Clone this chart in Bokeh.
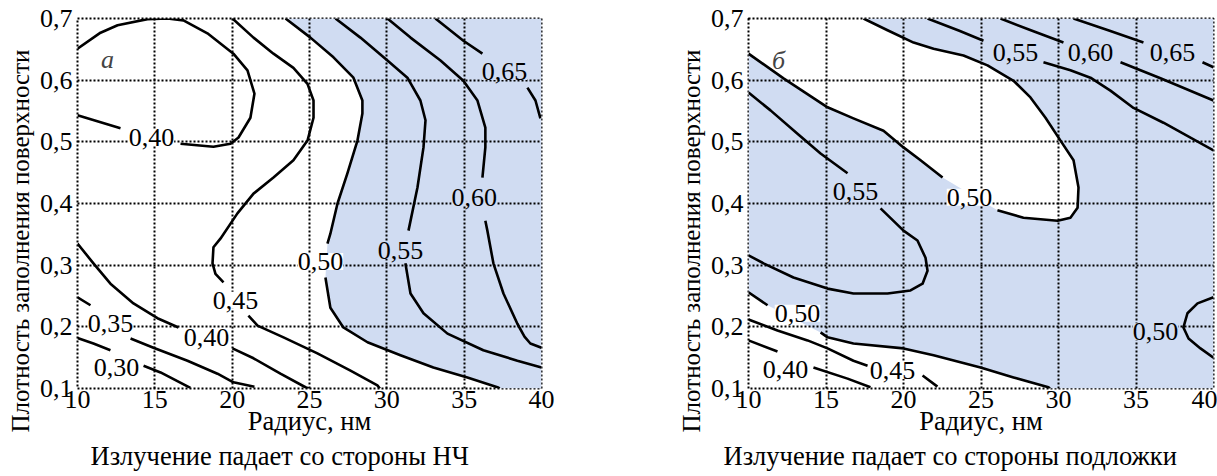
import math
from bokeh.plotting import figure
from bokeh.layouts import row
from bokeh.models import (Range1d, FixedTicker, CustomJSTickFormatter,
                          ColumnDataSource, LabelSet, Label, Title)
from bokeh.core.properties import value, field
from bokeh.embed import file_html
from bokeh.resources import INLINE

nan = float("nan")

# ---------------- data: ticks ----------------
X_TICKS = [10, 15, 20, 25, 30, 35, 40]
Y_TICKS = [0.1, 0.2, 0.3, 0.4, 0.5, 0.6, 0.7]

# ---------------- panel a contours (radius, fill density); nan = label gap ----------------
A40U_X = [10.0, 11.49, 12.59, 14.52, 15.82, 16.85, 18.40, 20.08, 20.99, 21.44, 21.18, 20.41, 19.89, 18.79, 16.66, nan, 12.78, 10.0]
A40U_Y = [0.651, 0.677, 0.689, 0.699, 0.700, 0.697, 0.676, 0.643, 0.616, 0.578, 0.539, 0.507, 0.497, 0.492, 0.497, nan, 0.522, 0.543]

A45_X = [20.02, 21.38, 22.67, 23.96, 24.87, 25.26, 25.26, 24.87, 23.96, 22.67, 21.38, 20.34, 19.24, 18.79, 18.73, 18.92, 19.44, nan, 21.05, 21.64, 23.32, 25.51, 27.65, 29.39, 29.55]
A45_Y = [0.700, 0.669, 0.643, 0.620, 0.594, 0.567, 0.539, 0.502, 0.470, 0.442, 0.416, 0.384, 0.343, 0.329, 0.303, 0.286, 0.272, nan, 0.218, 0.202, 0.183, 0.157, 0.129, 0.105, 0.100]

A50_X = [23.45, 25.06, 26.55, 27.84, 28.42, 28.42, 28.10, 27.45, 26.81, 26.35, 26.16, nan, 26.03, 26.35, 27.19, 28.75, 30.88, 33.01, 35.21, 37.15, 37.30]
A50_Y = [0.700, 0.669, 0.637, 0.604, 0.567, 0.546, 0.502, 0.449, 0.400, 0.351, 0.335, nan, 0.280, 0.231, 0.199, 0.175, 0.154, 0.134, 0.118, 0.102, 0.100]

A55_X = [26.68, 28.29, 30.04, 31.33, 32.17, 32.50, 32.37, 31.98, 31.40, nan, 31.20, 31.53, 32.37, 33.92, 36.24, 38.44, 40.0]
A55_Y = [0.700, 0.669, 0.632, 0.604, 0.567, 0.535, 0.491, 0.426, 0.356, nan, 0.303, 0.254, 0.222, 0.189, 0.162, 0.145, 0.134]

A60_X = [30.04, 31.53, 33.47, 34.95, 35.86, 36.37, 36.37, 36.18, nan, 36.37, 36.50, 36.89, 37.54, 38.44, 38.90, 39.28, 40.0]
A60_Y = [0.700, 0.669, 0.632, 0.599, 0.567, 0.523, 0.491, 0.442, nan, 0.372, 0.356, 0.303, 0.254, 0.205, 0.184, 0.173, 0.166]

A65_X = [33.14, 34.95, 36.18, nan, 39.09, 39.61, 39.93]
A65_Y = [0.700, 0.664, 0.643, nan, 0.588, 0.567, 0.538]

A40L_X = [10.0, 11.03, 12.13, 13.62, 15.17, 16.53, nan, 20.02, 21.38, 23.12, 24.74, 24.95]
A40L_Y = [0.335, 0.303, 0.270, 0.238, 0.214, 0.199, nan, 0.165, 0.149, 0.124, 0.102, 0.100]

A35_X = [10.0, 10.84, nan, 13.43, 14.91, 17.11, 19.05, 20.08, 21.44]
A35_Y = [0.248, 0.235, nan, 0.181, 0.166, 0.145, 0.124, 0.110, 0.103]

A30_X = [10.0, 11.03, 12.13, nan, 14.27, 15.37, 17.30]
A30_Y = [0.182, 0.173, 0.162, nan, 0.137, 0.126, 0.101]

A_LAB_TEXT = ["0,40", "0,45", "0,50", "0,55", "0,60", "0,65", "0,40", "0,35", "0,30"]
A_LAB_X = [14.78, 20.21, 25.71, 30.88, 35.66, 37.60, 18.34, 12.13, 12.52]
A_LAB_Y = [0.507, 0.243, 0.306, 0.324, 0.410, 0.614, 0.183, 0.205, 0.134]
A_LAB_SHADED = [False, False, False, True, True, True, False, False, False]

# ---------------- panel b contours ----------------
B55U_X = [21.55, 23.60, 25.16, nan, 29.03, 30.77, 32.06, 33.35, 34.84, 36.77, 40.0]
B55U_Y = [0.700, 0.680, 0.664, nan, 0.629, 0.616, 0.604, 0.583, 0.555, 0.531, 0.486]

B60_X = [26.26, 28.30, 30.32, nan, 34.00, 36.58, 40.0]
B60_Y = [0.700, 0.680, 0.661, nan, 0.629, 0.603, 0.567]

B65_X = [30.97, 33.30, 35.48, nan, 39.29, 40.0]
B65_Y = [0.700, 0.680, 0.661, nan, 0.629, 0.621]

B50U_X = [17.42, 18.97, 20.65, 21.94, 23.87, 25.42, 27.10, 28.19, 29.16, 30.13, 30.97, 31.29, 31.23, 30.77, 29.94, 27.74, 26.06, nan, 22.52, 21.10, 20.0, 18.71, 16.77, 15.10, 12.26, 10.0]
B50U_Y = [0.700, 0.681, 0.661, 0.651, 0.640, 0.624, 0.599, 0.572, 0.539, 0.502, 0.470, 0.426, 0.393, 0.377, 0.372, 0.377, 0.389, nan, 0.442, 0.470, 0.491, 0.518, 0.538, 0.556, 0.603, 0.643]

B55L_X = [10.0, 11.42, 13.16, 14.65, 16.39, nan, 18.52, 20.0, 20.90, 21.42, 21.55, 21.23, 20.45, 18.97, 16.77, 15.10, 12.90, 10.97, 10.0]
B55L_Y = [0.580, 0.551, 0.513, 0.481, 0.449, nan, 0.392, 0.356, 0.340, 0.312, 0.291, 0.270, 0.259, 0.254, 0.254, 0.262, 0.280, 0.303, 0.316]

B50L_X = [10.0, 11.23, nan, 14.65, 15.10, 16.77, 20.0, 21.94, 24.97, 27.10, 29.35, 29.45]
B50L_Y = [0.256, 0.235, nan, 0.191, 0.183, 0.173, 0.165, 0.154, 0.134, 0.118, 0.102, 0.100]

B45_X = [10.0, 11.87, 13.81, 15.10, 16.77, 17.68, nan, 21.23, 22.19]
B45_Y = [0.212, 0.194, 0.178, 0.165, 0.145, 0.137, nan, 0.121, 0.103]

B40_X = [10.0, 11.87, nan, 14.19, 16.39, 17.87]
B40_Y = [0.178, 0.160, nan, 0.134, 0.116, 0.102]

B50R_X = [40.0, 38.97, 38.32, 38.06, 38.39, 39.16, 40.0]
B50R_Y = [0.248, 0.238, 0.222, 0.199, 0.181, 0.165, 0.150]

B_LAB_TEXT = ["0,55", "0,60", "0,65", "0,50", "0,55", "0,50", "0,40", "0,45", "0,50"]
B_LAB_X = [27.23, 32.06, 37.35, 24.26, 16.90, 13.16, 12.39, 19.29, 36.26]
B_LAB_Y = [0.645, 0.645, 0.645, 0.410, 0.419, 0.222, 0.131, 0.129, 0.192]
B_LAB_SHADED = [True, True, True, False, True, False, False, False, True]

# ---------------- styling ----------------
FONT = "Liberation Serif"
SHADE = "#d0dcf2"
LW = 2.6


def clean(xs, ys):
    px, py = [], []
    for a, b in zip(xs, ys):
        if not (math.isnan(a) or math.isnan(b)):
            px.append(a)
            py.append(b)
    return px, py


def make_panel(width, left, right, shade_x, shade_y, lines, lab_text, lab_x, lab_y,
               lab_shaded, letter, letter_x, letter_y, caption, cap_offset):
    p = figure(width=width, height=476, x_range=Range1d(10, 40), y_range=Range1d(0.1, 0.7),
               output_backend="svg", toolbar_location=None,
               min_border_left=left, min_border_right=right,
               min_border_top=18, min_border_bottom=88)
    p.background_fill_color = "white"
    p.border_fill_color = "white"
    p.outline_line_color = "black"
    p.outline_line_dash = "2 2"
    p.outline_line_width = 2

    p.patch(shade_x, shade_y, fill_color=SHADE, line_color=None)

    for xs, ys in lines:
        p.line(xs, ys, line_color="black", line_width=LW, line_join="round")

    p.xaxis.ticker = FixedTicker(ticks=X_TICKS)
    p.yaxis.ticker = FixedTicker(ticks=Y_TICKS)
    p.yaxis.formatter = CustomJSTickFormatter(code="return tick.toFixed(1).replace('.', ',');")
    for ax in (p.xaxis[0], p.yaxis[0]):
        ax.axis_line_color = None
        ax.major_tick_line_color = None
        ax.minor_tick_line_color = None
        ax.major_tick_out = 0
        ax.major_tick_in = 0
        ax.minor_tick_out = 0
        ax.minor_tick_in = 0
        ax.major_label_text_font = FONT
        ax.major_label_text_font_size = "26px"
        ax.major_label_text_color = "black"
        ax.axis_label_text_font = FONT
        ax.axis_label_text_font_style = "normal"
        ax.axis_label_text_color = "black"
    p.xaxis.axis_label = "Радиус, нм"
    p.xaxis.axis_label_text_font_size = "26.5px"
    p.xaxis.major_label_standoff = 2
    p.xaxis.axis_label_standoff = -5
    p.yaxis.major_label_standoff = 5

    for g in (p.xgrid[0], p.ygrid[0]):
        g.grid_line_color = "black"
        g.grid_line_dash = "2 2"
        g.grid_line_width = 2
        g.level = "guide"

    src = ColumnDataSource(data=dict(
        x=lab_x, y=lab_y, text=lab_text,
        bg=[SHADE if s else "white" for s in lab_shaded]))
    labels = LabelSet(x="x", y="y", text="text", source=src,
                      text_font=value(FONT), text_font_size="26px",
                      text_align="center", text_baseline="middle",
                      text_color="black", background_fill_color=field("bg"))
    p.add_layout(labels)

    p.add_layout(Label(x=letter_x, y=letter_y, text=letter, text_font=FONT,
                       text_font_size="26px", text_font_style="italic",
                       text_align="center", text_baseline="middle"))

    # y-axis title, shifted down like the reference
    p.add_layout(Title(text="Плотность заполнения поверхности", align="left", offset=-44,
                       standoff=6, text_font=FONT, text_font_size="25px",
                       text_font_style="normal", text_color="black"), "left")

    p.add_layout(Title(text=caption, align="left", offset=cap_offset, standoff=0,
                       text_font=FONT, text_font_size="26.5px", text_font_style="normal",
                       text_color="black"), "below")
    return p


# panel a
a_sx, a_sy = clean(A50_X, A50_Y)
a_sx = a_sx + [40.0, 40.0]
a_sy = a_sy + [0.1, 0.7]
pa = make_panel(608, 77, 67, a_sx, a_sy,
                [(A40U_X, A40U_Y), (A45_X, A45_Y), (A50_X, A50_Y), (A55_X, A55_Y),
                 (A60_X, A60_Y), (A65_X, A65_Y), (A40L_X, A40L_Y), (A35_X, A35_Y),
                 (A30_X, A30_Y)],
                A_LAB_TEXT, A_LAB_X, A_LAB_Y, A_LAB_SHADED, "а", 11.94, 0.634,
                "Излучение падает со стороны НЧ", 13)

# panel b
ux, uy = clean(B50U_X, B50U_Y)
lx, ly = clean(B50L_X, B50L_Y)
b_sx = ux[::-1] + [40.0, 40.0] + lx[::-1]
b_sy = uy[::-1] + [0.7, 0.1] + ly[::-1]
pb = make_panel(609, 140, 4, b_sx, b_sy,
                [(B55U_X, B55U_Y), (B60_X, B60_Y), (B65_X, B65_Y), (B50U_X, B50U_Y),
                 (B55L_X, B55L_Y), (B50L_X, B50L_Y), (B45_X, B45_Y), (B40_X, B40_Y),
                 (B50R_X, B50R_Y)],
                B_LAB_TEXT, B_LAB_X, B_LAB_Y, B_LAB_SHADED, "б", 11.94, 0.632,
                "Излучение падает со стороны подложки", -25)

layout = row(pa, pb)
open("out.html", "w").write(file_html(layout, INLINE))
